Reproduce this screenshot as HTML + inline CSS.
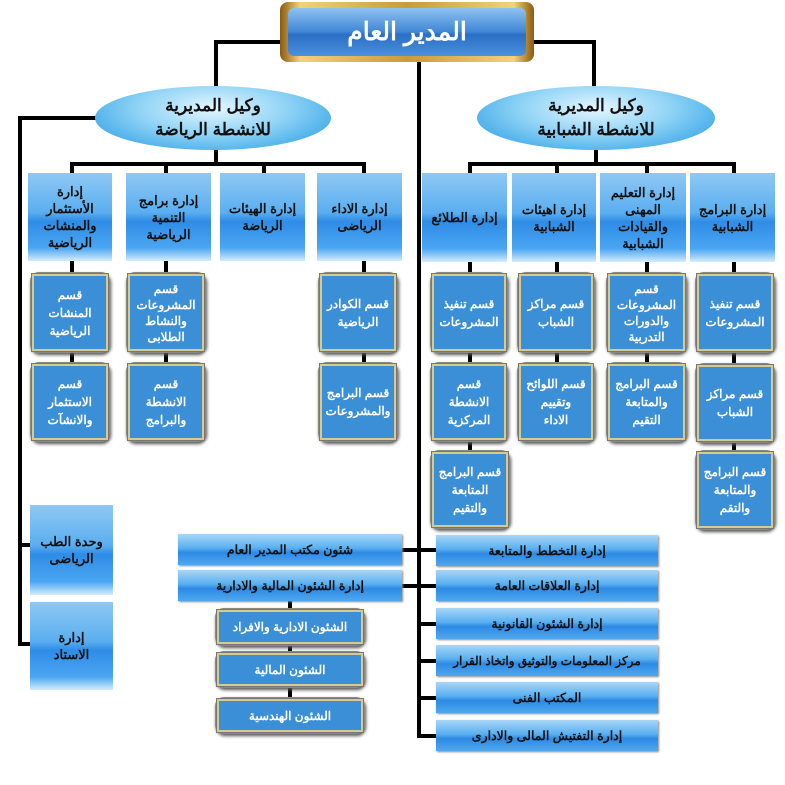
<!DOCTYPE html>
<html><head><meta charset="utf-8"><style>
body{margin:0;width:785px;height:785px;background:#fff;position:relative;overflow:hidden;font-family:"Liberation Sans","Noto Sans CJK SC",sans-serif;font-weight:bold}
div{box-sizing:border-box}
.l{position:absolute;background:#000}
.h{position:absolute;background:linear-gradient(#8fc8f3 0%,#5aaef0 45%,#2f8ce6 55%,#4aa6f2 85%,#d6ecfb 100%);color:#111;display:flex;align-items:center;justify-content:center;text-align:center;font-size:13px;line-height:17px;direction:rtl}
.s{position:absolute;border-radius:9px;background:#8a8a84;padding:2px;box-shadow:1px 2px 3px #555}
.s>div{width:100%;height:100%;border:2px solid #d8c98c;outline:1px solid #777;background:#3a8fd6;color:#fff;display:flex;align-items:center;justify-content:center;text-align:center;font-size:12px;line-height:18px;direction:rtl;padding:0;white-space:nowrap;letter-spacing:-0.3px}
.r{position:absolute;height:31px;background:linear-gradient(#a8d6f8,#5ab0f0 45%,#2d8ae4 60%,#4ea8ef);color:#111;display:flex;align-items:center;justify-content:center;font-size:12.5px;direction:rtl;box-shadow:1px 1px 2px #888}
.e{position:absolute;border-radius:50%;background:radial-gradient(ellipse at 50% 35%,#e6f6ff 0%,#8fd3f6 45%,#3aa6e6 85%,#2b8fd0 100%);display:flex;align-items:center;justify-content:center;text-align:center;font-size:17px;line-height:24px;color:#111;direction:rtl}
</style></head><body>
<div class="l" style="left:214px;top:40px;width:66px;height:4px"></div>
<div class="l" style="left:214px;top:40px;width:4px;height:48px"></div>
<div class="l" style="left:532px;top:40px;width:64px;height:4px"></div>
<div class="l" style="left:592px;top:40px;width:4px;height:48px"></div>
<div class="l" style="left:417px;top:58px;width:4px;height:680px"></div>
<div class="l" style="left:18px;top:116px;width:4px;height:530px"></div>
<div class="l" style="left:18px;top:116px;width:80px;height:4px"></div>
<div class="l" style="left:18px;top:543px;width:14px;height:4px"></div>
<div class="l" style="left:18px;top:642px;width:14px;height:4px"></div>
<div class="l" style="left:70px;top:162px;width:296px;height:4px"></div>
<div class="l" style="left:468px;top:162px;width:266px;height:4px"></div>
<div class="l" style="left:214px;top:148px;width:4px;height:16px"></div>
<div class="l" style="left:594px;top:148px;width:4px;height:16px"></div>
<div class="l" style="left:70px;top:162px;width:4px;height:200px"></div>
<div class="l" style="left:164px;top:162px;width:4px;height:200px"></div>
<div class="l" style="left:262px;top:162px;width:4px;height:14px"></div>
<div class="l" style="left:362px;top:162px;width:4px;height:200px"></div>
<div class="l" style="left:468px;top:162px;width:4px;height:290px"></div>
<div class="l" style="left:555px;top:162px;width:4px;height:200px"></div>
<div class="l" style="left:645px;top:162px;width:4px;height:200px"></div>
<div class="l" style="left:732px;top:162px;width:4px;height:290px"></div>
<div class="l" style="left:400px;top:548px;width:40px;height:4px"></div>
<div class="l" style="left:400px;top:584px;width:40px;height:4px"></div>
<div class="l" style="left:288px;top:600px;width:4px;height:100px"></div>
<div class="l" style="left:417px;top:622px;width:22px;height:4px"></div>
<div class="l" style="left:417px;top:659px;width:22px;height:4px"></div>
<div class="l" style="left:417px;top:696px;width:22px;height:4px"></div>
<div class="l" style="left:417px;top:734px;width:22px;height:4px"></div>

<div style="position:absolute;left:280px;top:2px;width:254px;height:60px;border-radius:8px;background:linear-gradient(90deg,#8a5a10,#f2d27a 8%,#c89a3a 50%,#f2d27a 92%,#8a5a10);padding:6px 8px">
<div style="width:100%;height:100%;border-radius:6px;background:linear-gradient(#8ec2f0,#3f86d6 50%,#2a6fc4 55%,#4a90dc);color:#fff;display:flex;align-items:center;justify-content:center;font-size:25px;direction:rtl">المدير العام</div></div>
<div class="e" style="left:95px;top:86px;width:236px;height:64px">وكيل المديرية<br>للانشطة الرياضة</div>
<div class="e" style="left:477px;top:86px;width:238px;height:64px">وكيل المديرية<br>للانشطة الشبابية</div>

<div class="h" style="left:28px;top:173px;width:84px;height:88px">إدارة<br>الأستثمار<br>والمنشات<br>الرياضية</div>
<div class="h" style="left:126px;top:173px;width:85px;height:88px">إدارة برامج<br>التنمية<br>الرياضية</div>
<div class="h" style="left:220px;top:173px;width:85px;height:88px">إدارة الهيئات<br>الرياضة</div>
<div class="h" style="left:317px;top:173px;width:85px;height:88px">إدارة الاداء<br>الرياضى</div>
<div class="h" style="left:422px;top:173px;width:85px;height:89px">إدارة الطلائع</div>
<div class="h" style="left:512px;top:173px;width:84px;height:89px">إدارة اهيئات<br>الشبابية</div>
<div class="h" style="left:600px;top:173px;width:86px;height:89px">إدارة التعليم<br>المهنى والقيادات<br>الشبابية</div>
<div class="h" style="left:690px;top:173px;width:85px;height:89px">إدارة البرامج<br>الشبابية</div>

<div class="s" style="left:30px;top:272px;width:80px;height:81px"><div>قسم<br>المنشات<br>الرياضية</div></div>
<div class="s" style="left:30px;top:362px;width:80px;height:80px"><div>قسم<br>الاستثمار<br>والانشآت</div></div>
<div class="s" style="left:126px;top:272px;width:80px;height:81px"><div style="line-height:16px">قسم<br>المشروعات<br>والنشاط<br>الطلابى</div></div>
<div class="s" style="left:126px;top:362px;width:80px;height:80px"><div>قسم<br>الانشطة<br>والبرامج</div></div>
<div class="s" style="left:318px;top:272px;width:80px;height:81px"><div>قسم الكوادر<br>الرياضية</div></div>
<div class="s" style="left:318px;top:362px;width:80px;height:80px"><div>قسم البرامج<br>والمشروعات</div></div>
<div class="s" style="left:430px;top:272px;width:78px;height:81px"><div>قسم تنفيذ<br>المشروعات</div></div>
<div class="s" style="left:430px;top:362px;width:78px;height:80px"><div>قسم<br>الانشطة<br>المركزية</div></div>
<div class="s" style="left:430px;top:450px;width:80px;height:79px"><div>قسم البرامج<br>المتابعة<br>والتقيم</div></div>
<div class="s" style="left:517px;top:272px;width:78px;height:81px"><div>قسم مراكز<br>الشباب</div></div>
<div class="s" style="left:517px;top:362px;width:78px;height:80px"><div>قسم اللوائح<br>وتقييم<br>الاداء</div></div>
<div class="s" style="left:606px;top:272px;width:81px;height:81px"><div style="line-height:16px">قسم<br>المشروعات<br>والدورات<br>التدربية</div></div>
<div class="s" style="left:606px;top:362px;width:81px;height:80px"><div>قسم البرامج<br>والمتابعة<br>التقيم</div></div>
<div class="s" style="left:695px;top:272px;width:80px;height:81px"><div>قسم تنفيذ<br>المشروعات</div></div>
<div class="s" style="left:695px;top:363px;width:80px;height:80px"><div>قسم مراكز<br>الشباب</div></div>
<div class="s" style="left:695px;top:450px;width:80px;height:80px"><div>قسم البرامج<br>والمتابعة<br>والتقم</div></div>

<div class="h" style="left:30px;top:505px;width:83px;height:90px">وحدة الطب<br>الرياضى</div>
<div class="h" style="left:30px;top:602px;width:83px;height:88px">إدارة<br>الاستاد</div>

<div class="r" style="left:178px;top:534px;width:224px">شئون مكتب المدير العام</div>
<div class="r" style="left:178px;top:570px;width:224px">إدارة الشئون المالية والادارية</div>
<div class="s" style="left:215px;top:608px;width:150px;height:38px"><div>الشئون الادارية والافراد</div></div>
<div class="s" style="left:215px;top:651px;width:150px;height:37px"><div>الشئون المالية</div></div>
<div class="s" style="left:215px;top:697px;width:150px;height:37px"><div>الشئون الهندسية</div></div>

<div class="r" style="left:436px;top:535px;width:222px">إدارة التخطط والمتابعة</div>
<div class="r" style="left:436px;top:570px;width:222px">إدارة العلاقات العامة</div>
<div class="r" style="left:436px;top:608px;width:222px">إدارة الشئون القانونية</div>
<div class="r" style="left:436px;top:645px;width:222px;font-size:12px">مركز المعلومات والتوثيق واتخاذ القرار</div>
<div class="r" style="left:436px;top:682px;width:222px">المكتب الفنى</div>
<div class="r" style="left:436px;top:720px;width:222px">إدارة التفتيش المالى والادارى</div>
</body></html>
